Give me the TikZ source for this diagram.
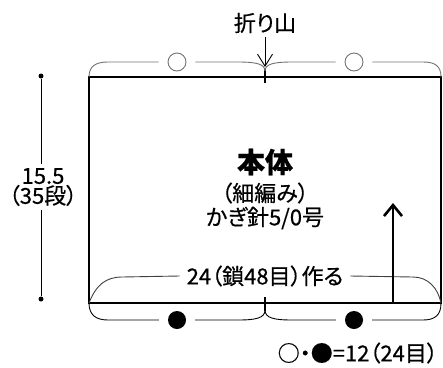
\documentclass[tikz,border=0pt]{standalone}
\usepackage{fontspec}
\setmainfont{Noto Sans CJK JP}[RawFeature=+palt, FakeBold=0.5]
\usetikzlibrary{arrows.meta}

\begin{document}
\begin{tikzpicture}[x=1pt,y=-1pt,
    every node/.style={inner sep=0pt, font=\fontsize{22}{24}\selectfont},
    bodyline/.style={line width=2.6pt},
    thinline/.style={line width=0.9pt},
    topbrace/.style={thinline, draw=black!55},
    ring/.style={circle, draw=black!55, thinline, minimum size=18pt},
    blob/.style={circle, fill=black, minimum size=18pt},
    dimdot/.style={circle, fill=black, minimum size=5pt}]
    \useasboundingbox (0,0) rectangle (443,367);

    % body
    \draw[bodyline] (89,77) rectangle (441,303);
    \draw[bodyline] (265,69) -- (265,83);
    \draw[line width=1.8pt] (265,297) -- (265,311);

    % fold
    \node (fold) at (265,23) {折り山};
    \draw[thinline, -{Straight Barb[length=12pt,width=15pt]}] (fold.south) ++(0,4) -- (265,67);

    % top braces
    \node[ring] (ringL) at (177,62) {};
    \node[ring] (ringR) at (354,62) {};
    \draw[topbrace] (89,77) .. controls (89,66) and (96,62) .. (108,62) -- ([xshift=-9pt]ringL.west);
    \draw[topbrace] ([xshift=9pt]ringL.east) -- (238,62) .. controls (256,62) and (265,64) .. (265,71);
    \draw[topbrace] (265,71) .. controls (265,64) and (274,62) .. (292,62) -- ([xshift=-9pt]ringR.west);
    \draw[topbrace] ([xshift=9pt]ringR.east) -- (423,62) .. controls (435,62) and (441,66) .. (441,77);

    % bottom braces
    \node[blob] (blobL) at (177,320) {};
    \node[blob] (blobR) at (354,320) {};
    \draw[thinline] (89,303) .. controls (89,315) and (96,320) .. (108,320) -- ([xshift=-9pt]blobL.west);
    \draw[thinline] ([xshift=9pt]blobL.east) -- (238,320) .. controls (256,320) and (265,318) .. (265,310);
    \draw[thinline] (265,310) .. controls (265,318) and (274,320) .. (292,320) -- ([xshift=-9pt]blobR.west);
    \draw[thinline] ([xshift=9pt]blobR.east) -- (423,320) .. controls (435,320) and (441,315) .. (441,303);

    % foundation chain
    \node (chain) at (265,276) {24（鎖48目）作る};
    \draw[thinline, draw=black!75] (89,303) .. controls (96,285) and (106,277) .. (122,277) -- ([xshift=-7pt]chain.west);
    \draw[thinline, draw=black!75] ([xshift=7pt]chain.east) -- (413,277) .. controls (428,277) and (438,288) .. (441,303);

    % direction
    \draw[bodyline, -{Straight Barb[length=11pt,width=18pt]}] (393,303) -- (393,203);

    % labels
    \node (title) at (265,162) {\bfseries\fontsize{28}{30}\selectfont 本体};
    \node (stitch) at (265,193) {（細編み）};
    \node (hook) at (265,218) {かぎ針5/0号};

    % height
    \node[align=center] (height) at (43,187) {15.5\\[-4pt]（35段）};
    \node[dimdot] (dotT) at (41,76) {};
    \node[dimdot] (dotB) at (41,299) {};
    \draw[thinline] (dotT) -- ([yshift=4pt]dotT |- height.north);
    \draw[thinline] (dotB) -- ([yshift=-4pt]dotB |- height.south);

    % key
    \node[anchor=east] (key) at (438,353) {○・●=12（24目）};
\end{tikzpicture}
\end{document}
